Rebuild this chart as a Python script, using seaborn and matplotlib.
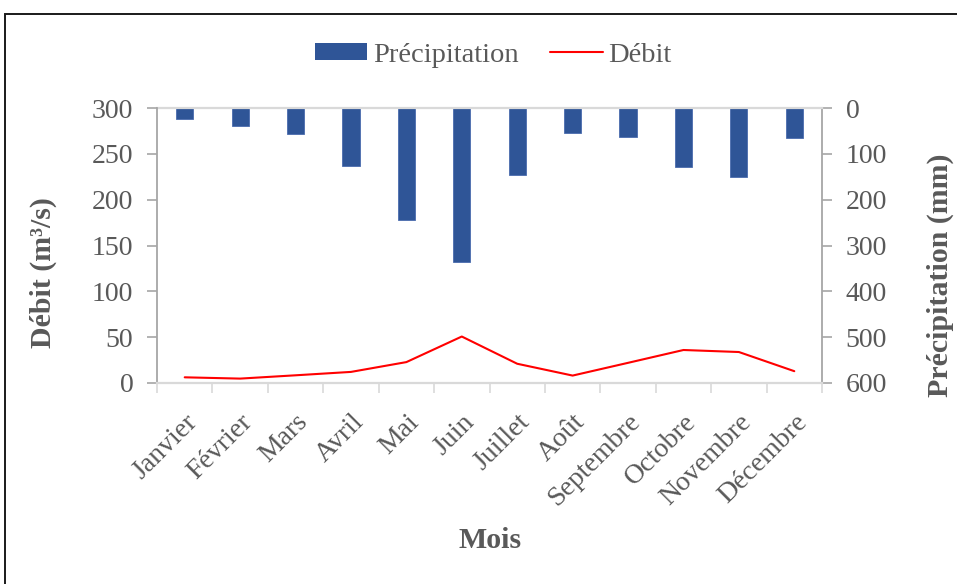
import matplotlib
matplotlib.use("Agg")
import matplotlib.pyplot as plt
from matplotlib.patches import Rectangle
import seaborn as sns
import numpy as np
import pandas as pd

months = ["Janvier", "Février", "Mars", "Avril", "Mai", "Juin", "Juillet",
          "Août", "Septembre", "Octobre", "Novembre", "Décembre"]
precipitation_mm = [24, 39, 57, 127, 245, 337, 147, 55, 63, 129, 150, 66]
debit_m3s = [6.2, 4.8, 8.4, 12.1, 22.8, 50.7, 21.0, 8.1, 22.0, 36.0, 33.8, 12.9]
debit_ticks = [0, 50, 100, 150, 200, 250, 300]
precip_ticks = [0, 100, 200, 300, 400, 500, 600]

df = pd.DataFrame({
    "Mois": pd.Categorical(months, categories=months, ordered=True),
    "Précipitation": precipitation_mm,
    "Débit": debit_m3s,
})

sns.set_theme(style="white")
plt.rcParams["font.family"] = ["Liberation Serif", "DejaVu Serif"]
text_col = "#595959"
axis_col = "#A6A6A6"
light_col = "#D9D9D9"
bar_col = "#2F5597"
line_col = "#FF0000"

W, H = 957, 584
fig = plt.figure(figsize=(W / 100, H / 100), dpi=100)
fig.patch.set_facecolor("white")

# outer chart frame
fig.patches.append(Rectangle((5 / W, -0.05), 1.2, 1 - 14 / H + 0.05,
                             transform=fig.transFigure, fill=False,
                             edgecolor="#1a1a1a", linewidth=1.4, zorder=0))

ax = fig.add_axes([157 / W, 1 - 383 / H, 665 / W, 275 / H])
ax2 = ax.twinx()

# precipitation bars hanging from the top on the reversed secondary axis
sns.barplot(data=df, x="Mois", y="Précipitation", ax=ax2, color=bar_col,
            saturation=1, width=0.31, edgecolor="#4a6cae", linewidth=0.6)
ax2.set_ylim(600, 0)

# discharge line on the primary axis
sns.lineplot(data=df, x="Mois", y="Débit", ax=ax, color=line_col,
             linewidth=1.5, sort=False)
ax.set_ylim(0, 300)
ax.set_xlim(-0.5, 11.5)
ax2.set_xlim(-0.5, 11.5)

ax.set_zorder(ax2.get_zorder() + 1)
ax.patch.set_visible(False)

# y axes
ax.set_yticks(debit_ticks)
ax.set_yticklabels([str(t) for t in debit_ticks])
ax2.set_yticks(precip_ticks)
ax2.set_yticklabels([str(t) for t in precip_ticks])
ax.tick_params(axis="y", which="major", length=7, width=1.2, color=axis_col,
               labelsize=20, labelcolor=text_col, pad=10, left=True)
ax2.tick_params(axis="y", which="major", length=7, width=1.2, color=axis_col,
                labelsize=20, labelcolor=text_col, pad=10, right=True)

# x axis: labels at categories, tick marks between them
ax.set_xticks(range(len(months)))
ax.set_xticklabels(months, rotation=45, ha="right", va="top",
                   rotation_mode="anchor")
ax.set_xticks(np.arange(-0.5, 12, 1), minor=True)
ax.tick_params(axis="x", which="major", length=0, labelsize=20,
               labelcolor=text_col, pad=19)
ax.tick_params(axis="x", which="minor", length=7, width=1.2, color=light_col,
               bottom=True)
ax2.tick_params(axis="x", which="both", length=0, labelbottom=False)
ax2.set_xlabel("")

for a in (ax, ax2):
    a.grid(False)
    for s in a.spines.values():
        s.set_visible(False)
ax.spines["left"].set_visible(True)
ax.spines["left"].set_color(axis_col)
ax.spines["left"].set_linewidth(1.3)
ax.spines["bottom"].set_visible(True)
ax.spines["bottom"].set_color(light_col)
ax.spines["bottom"].set_linewidth(1.6)
ax2.spines["right"].set_visible(True)
ax2.spines["right"].set_color(axis_col)
ax2.spines["right"].set_linewidth(1.3)
ax2.spines["top"].set_visible(True)
ax2.spines["top"].set_color(light_col)
ax2.spines["top"].set_linewidth(1.6)

title_kw = dict(fontsize=21.5, fontweight="bold", color=text_col)
ax.set_xlabel("")
ax.set_ylabel("")
ax2.set_ylabel("")
fig.text(490 / W, 1 - 541 / H, "Mois", ha="center", va="center", **title_kw)
fig.text(43 / W, 1 - 273 / H, "Débit (m³/s)", ha="center", va="center",
         rotation=90, **title_kw)
fig.text(940 / W, 1 - 275 / H, "Précipitation (mm)", ha="center",
         va="center", rotation=90, **title_kw)

# legend
handles = [Rectangle((0, 0), 1, 1, facecolor=bar_col, edgecolor="none"),
           plt.Line2D([0], [0], color=line_col, linewidth=1.5)]
fig.legend(handles, ["Précipitation", "Débit"], loc="center",
           bbox_to_anchor=(493 / W, 1 - 55 / H), ncol=2, frameon=False,
           fontsize=20.5, labelcolor=text_col, handlelength=1.85,
           handleheight=0.55, handletextpad=0.2, columnspacing=1.1)

fig.savefig("out.png", dpi=100, facecolor="white")
